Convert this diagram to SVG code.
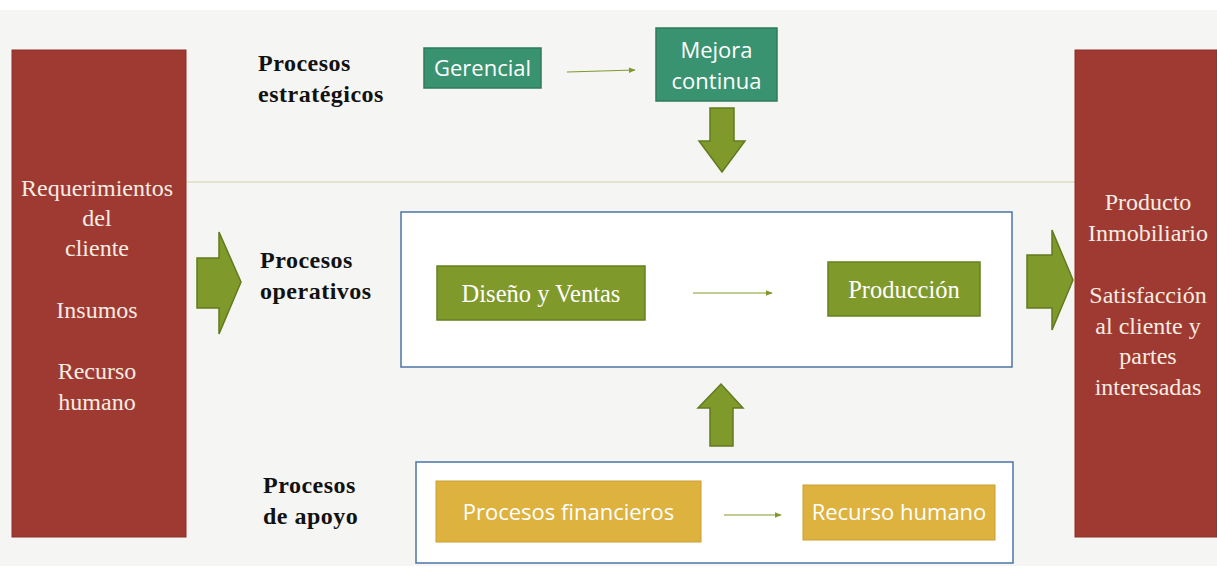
<svg xmlns="http://www.w3.org/2000/svg" width="1217" height="576" viewBox="0 0 1217 576">
<defs>
<style>
.bg{fill:#f5f5f3}
.red{fill:#9f3a32;stroke:#8a3029;stroke-width:1}
.redtxt{font-family:"Liberation Serif",serif;font-size:24px;fill:#f6ece2;text-anchor:middle}
.lbl{font-family:"Liberation Serif",serif;font-size:24px;font-weight:bold;fill:#111;letter-spacing:0.5px}
.teal{fill:#3a9370;stroke:#2f7b5d;stroke-width:1.5}
.olive{fill:#80992b;stroke:#66801f;stroke-width:1.5}
.gold{fill:#deb23f;stroke:#c99f34;stroke-width:1}
.frame{fill:#ffffff;stroke:#4a74a6;stroke-width:1.5}
.sans{font-family:"Open Sans","Liberation Sans",sans-serif;font-size:22px;fill:#ffffff;text-anchor:middle}
.serifw{font-family:"Liberation Serif",serif;font-size:24.5px;fill:#ffffff;text-anchor:middle}
.big{fill:#80992b;stroke:#627a1f;stroke-width:1.5}
.thin{stroke:#80992b;stroke-width:1.2;fill:none;marker-end:url(#ah)}
</style>
<marker id="ah" viewBox="0 0 10 10" refX="9" refY="5" markerWidth="7" markerHeight="7" markerUnits="userSpaceOnUse" orient="auto">
<path d="M0,1 L10,5 L0,9 Z" fill="#80992b"/>
</marker>
</defs>
<rect class="bg" x="0" y="0" width="1217" height="576"/>
<rect x="0" y="0" width="1217" height="10" fill="#ffffff"/>
<rect x="0" y="566" width="1217" height="10" fill="#ffffff"/>
<line x1="186" y1="182" x2="1075" y2="182" stroke="#dcdcc2" stroke-width="1.5"/>

<g id="entradas">
<rect class="red" x="12" y="50" width="174" height="487"/>
<text class="redtxt" x="97" y="196">Requerimientos</text>
<text class="redtxt" x="97" y="226">del</text>
<text class="redtxt" x="97" y="256">cliente</text>
<text class="redtxt" x="97" y="318">Insumos</text>
<text class="redtxt" x="97" y="379">Recurso</text>
<text class="redtxt" x="97" y="410">humano</text>
</g>

<g id="salidas">
<rect class="red" x="1075" y="50" width="142" height="487"/>
<text class="redtxt" x="1148" y="210">Producto</text>
<text class="redtxt" x="1148" y="241">Inmobiliario</text>
<text class="redtxt" x="1148" y="303">Satisfacción</text>
<text class="redtxt" x="1148" y="334">al cliente y</text>
<text class="redtxt" x="1148" y="364">partes</text>
<text class="redtxt" x="1148" y="395">interesadas</text>
</g>

<g id="lbl-estrategicos">
<text class="lbl" x="258" y="71">Procesos</text>
<text class="lbl" x="258" y="102">estratégicos</text>
</g>
<g id="lbl-operativos">
<text class="lbl" x="260" y="268">Procesos</text>
<text class="lbl" x="260" y="299">operativos</text>
</g>
<g id="lbl-apoyo">
<text class="lbl" x="263" y="493">Procesos</text>
<text class="lbl" x="263" y="524">de apoyo</text>
</g>

<g id="gerencial">
<rect class="teal" x="424" y="48" width="117" height="40"/>
<text class="sans" x="482.5" y="76">Gerencial</text>
</g>
<g id="mejora">
<rect class="teal" x="656" y="28" width="121" height="73"/>
<text class="sans" x="716.5" y="58">Mejora</text>
<text class="sans" x="716.5" y="89">continua</text>
</g>

<g id="operativos-frame">
<rect class="frame" x="401" y="212" width="611" height="155"/>
</g>
<g id="diseno">
<rect class="olive" x="437" y="266" width="208" height="54"/>
<text class="serifw" x="541" y="302">Diseño y Ventas</text>
</g>
<g id="produccion">
<rect class="olive" x="828" y="262" width="152" height="54"/>
<text class="serifw" x="904" y="298">Producción</text>
</g>

<g id="apoyo-frame">
<rect class="frame" x="416" y="462" width="597" height="101"/>
</g>
<g id="financieros">
<rect class="gold" x="436" y="481" width="265" height="61"/>
<text class="sans" x="568.5" y="520">Procesos financieros</text>
</g>
<g id="rrhh">
<rect class="gold" x="803" y="485" width="192" height="55"/>
<text class="sans" x="899" y="520">Recurso humano</text>
</g>

<g id="connectors">
<line class="thin" x1="567" y1="72" x2="635" y2="70"/>
<line class="thin" x1="693" y1="293" x2="772" y2="293"/>
<line class="thin" x1="724" y1="515" x2="781" y2="515"/>
<path class="big" d="M197,258 L219,258 L219,232 L241,282 L219,334 L219,308 L197,308 Z"/>
<path class="big" d="M1027,255 L1052,255 L1052,230 L1073,280 L1052,330 L1052,308 L1027,308 Z"/>
<path class="big" d="M710,108 L734,108 L734,141 L745,141 L722,172 L699,141 L710,141 Z"/>
<path class="big" d="M710,446 L733,446 L733,408 L743,408 L721,384 L698,408 L710,408 Z"/>
</g>
</svg>
